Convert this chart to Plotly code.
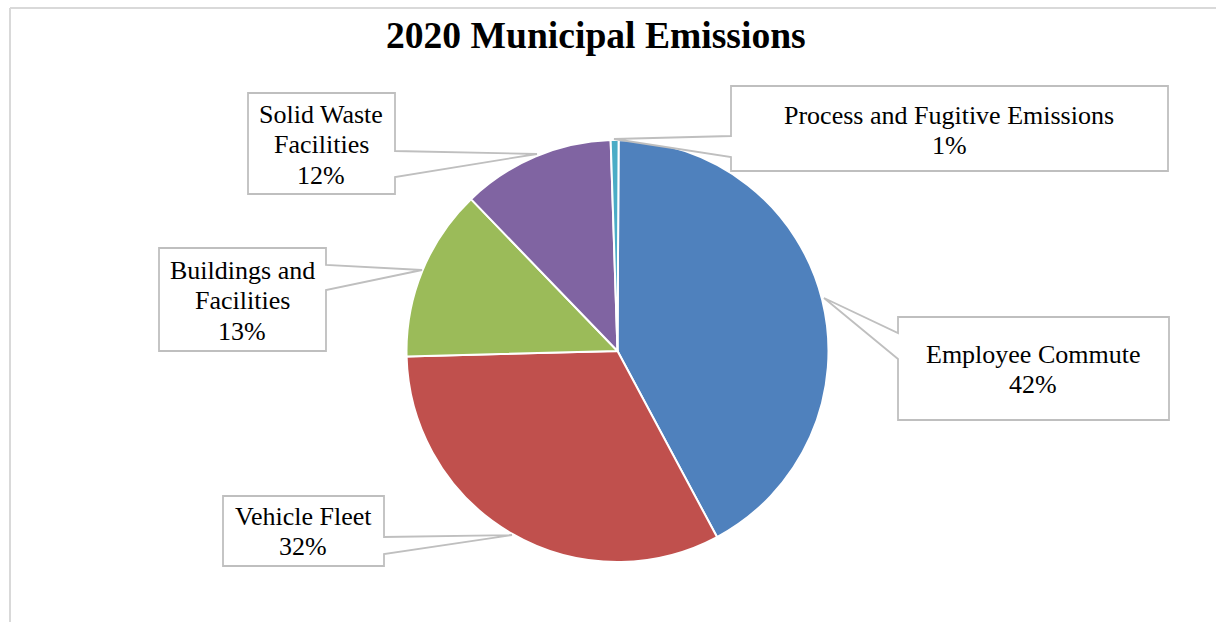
import plotly.graph_objects as go

W, H = 1216, 622

# Emission shares by sector (percent of total)
categories = [
    "Employee Commute",
    "Vehicle Fleet",
    "Buildings and Facilities",
    "Solid Waste Facilities",
    "Process and Fugitive Emissions",
]
values = [42.1, 32.4, 13.2, 11.7, 0.6]
colors = ["#4F81BD", "#C0504D", "#9BBB59", "#8064A2", "#4BACC6"]

# How each callout breaks its category name into lines
label_lines = [
    ["Employee Commute"],
    ["Vehicle Fleet"],
    ["Buildings and", "Facilities"],
    ["Solid Waste", "Facilities"],
    ["Process and Fugitive Emissions"],
]

FONT = "Liberation Serif, Times New Roman, serif"
LABEL_SIZE = 26
TITLE_SIZE = 37.6
LINE_GAP = 30.5


def px(x):
    return x / W


def py(y):
    return 1 - y / H


total = sum(values)
pct_text = [f"{round(v / total * 100)}%" for v in values]

# Pie occupies a 422 px square centred near (617.5, 351)
cx, cy, r = 617.5, 351, 211
fig = go.Figure(
    go.Pie(
        labels=categories,
        values=values,
        sort=False,
        direction="clockwise",
        rotation=0.3,
        marker=dict(colors=colors, line=dict(color="white", width=2)),
        textinfo="none",
        hoverinfo="label+percent",
        showlegend=False,
        domain=dict(x=[px(cx - r), px(cx + r)], y=[py(cy + r), py(cy - r)]),
    )
)

# Callout outlines: box plus pointer wedge, in pixel coordinates
callouts = [
    [(898, 317), (1169, 317), (1169, 420), (898, 420), (898, 359), (824, 298), (898, 333)],
    [(223, 496), (384, 496), (384, 537), (512, 535), (384, 554), (384, 566), (223, 566)],
    [(159, 248), (326, 248), (326, 265), (422, 270), (326, 290), (326, 351), (159, 351)],
    [(248, 93), (395, 93), (395, 151), (537, 154), (395, 177), (395, 194), (248, 194)],
    [(731, 86), (1168, 86), (1168, 171), (731, 171), (731, 157), (614, 139), (731, 136)],
]
# Text centre x and baseline of the first line for each callout
text_anchor = [(1033, 363), (303, 525), (242, 279), (321, 123), (949, 124)]

shapes = []
for pts in callouts:
    path = "M " + " L ".join(f"{px(x):.5f},{py(y):.5f}" for x, y in pts) + " Z"
    shapes.append(
        dict(
            type="path",
            xref="paper",
            yref="paper",
            path=path,
            fillcolor="white",
            line=dict(color="#BFBFBF", width=1.8),
            layer="above",
        )
    )

# Outer chart frame (top and left edges)
frame = dict(color="#D9D9D9", width=2)
shapes.append(dict(type="line", xref="paper", yref="paper",
                   x0=px(10), y0=py(8), x1=1.0, y1=py(8), line=frame))
shapes.append(dict(type="line", xref="paper", yref="paper",
                   x0=px(10), y0=py(8), x1=px(10), y1=0.0, line=frame))

annotations = []
mid_offset = 0.3375 * LABEL_SIZE
for lines, pct, (tx, base) in zip(label_lines, pct_text, text_anchor):
    for i, line in enumerate(lines + [pct]):
        annotations.append(
            dict(
                x=px(tx),
                y=py(base + i * LINE_GAP - mid_offset),
                xref="paper",
                yref="paper",
                text=line,
                showarrow=False,
                xanchor="center",
                yanchor="middle",
                font=dict(family=FONT, size=LABEL_SIZE, color="#000000"),
            )
        )

annotations.append(
    dict(
        x=px(596),
        y=py(48 - 0.3375 * TITLE_SIZE),
        xref="paper",
        yref="paper",
        text="<b>2020 Municipal Emissions</b>",
        showarrow=False,
        xanchor="center",
        yanchor="middle",
        font=dict(family=FONT, size=TITLE_SIZE, color="#000000"),
    )
)

fig.update_layout(
    width=W,
    height=H,
    margin=dict(l=0, r=0, t=0, b=0),
    paper_bgcolor="white",
    plot_bgcolor="white",
    shapes=shapes,
    annotations=annotations,
)

fig.write_html("out.html", config={"displayModeBar": False})
